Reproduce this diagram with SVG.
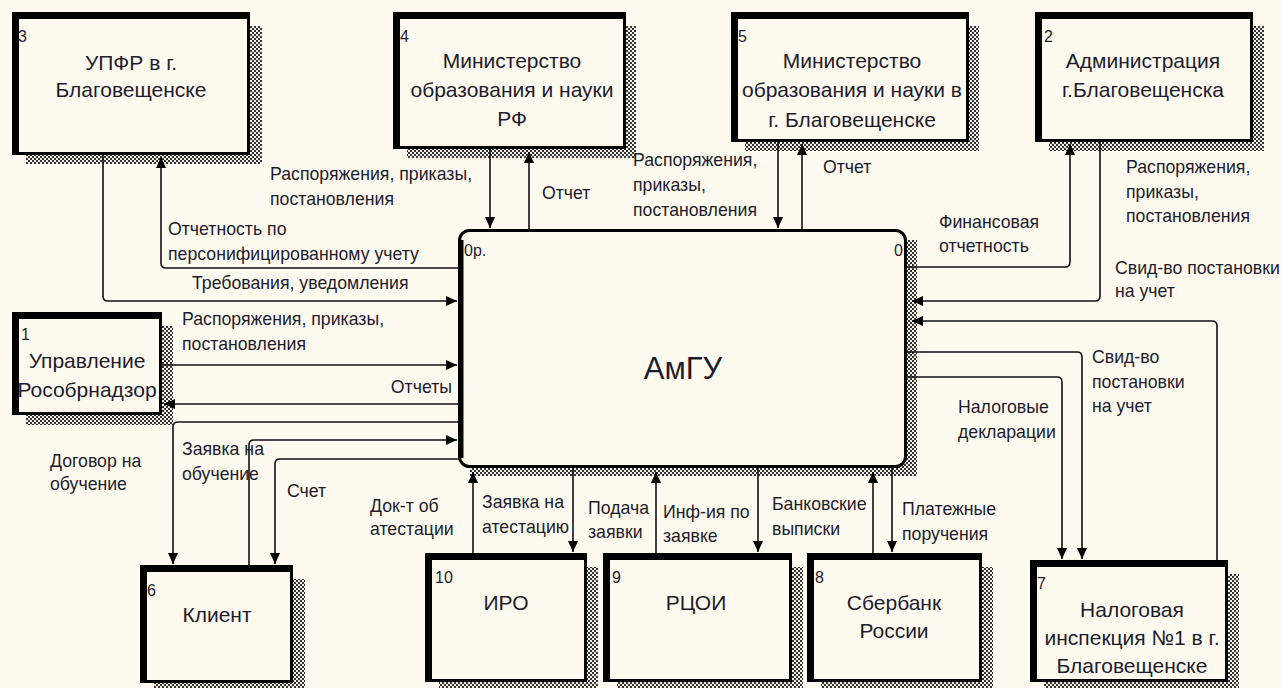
<svg xmlns="http://www.w3.org/2000/svg" width="1281" height="688" viewBox="0 0 1281 688">
<style>
.bg{fill:#fffaf0}
.sh{fill:url(#hatch)}
.bx{fill:#fffaf0;stroke:#000;stroke-width:3}
.tk{fill:#000}
.t{font-family:"Liberation Sans",Arial,sans-serif;fill:#1c1c2c}
.ttl{font-size:21px;text-anchor:middle}
.num{font-size:16px}
.lbl{font-size:17.7px}
.big{font-size:31px;text-anchor:middle}
.cn path{fill:none;stroke:#111;stroke-width:1.6}
.ar{marker-end:url(#ah)}
</style>
<defs>
<pattern id="hatch" width="4" height="4" patternUnits="userSpaceOnUse">
<rect width="4" height="4" fill="#f4f1e8"/>
<rect width="2" height="2" fill="#333"/>
<rect x="2" y="2" width="2" height="2" fill="#333"/>
</pattern>
<marker id="ah" markerUnits="userSpaceOnUse" markerWidth="12" markerHeight="12" refX="11" refY="6" orient="auto" viewBox="0 0 12 12">
<path d="M0,1 L11,6 L0,11 z" fill="#000"/>
</marker>
</defs>
<rect class="bg" width="1281" height="688"/>

<g id="main">
<rect class="sh" x="470" y="240" width="447" height="236"/>
<rect class="bx" x="459.5" y="230.5" width="446" height="236" rx="10"/>
<path d="M461,240 V458" stroke="#000" stroke-width="5"/>
<text class="t num" x="464" y="256">0р.</text>
<text class="t num" x="894" y="256">0</text>
<text class="t big" x="683" y="379">АмГУ</text>
</g>

<g id="n3">
<rect class="sh" x="26" y="26" width="236" height="138"/>
<rect class="bx" x="13.5" y="13.5" width="235" height="140"/>
<rect class="tk" x="12" y="12" width="7" height="143"/><rect class="tk" x="12" y="12" width="238" height="7"/>
<text class="t num" x="18" y="42">3</text>
<text class="t ttl" x="131" y="70">УПФР в г.</text>
<text class="t ttl" x="131" y="97">Благовещенске</text>
</g>

<g id="n4">
<rect class="sh" x="407" y="26" width="229" height="132"/>
<rect class="bx" x="394.5" y="13.5" width="230" height="134"/>
<rect class="tk" x="393" y="12" width="7" height="137"/><rect class="tk" x="393" y="12" width="233" height="7"/>
<text class="t num" x="400" y="42">4</text>
<text class="t ttl" x="512" y="68">Министерство</text>
<text class="t ttl" x="512" y="97">образования и науки</text>
<text class="t ttl" x="512" y="126">РФ</text>
</g>

<g id="n5">
<rect class="sh" x="745" y="26" width="234" height="125"/>
<rect class="bx" x="732.5" y="13.5" width="235" height="127"/>
<rect class="tk" x="731" y="12" width="7" height="130"/><rect class="tk" x="731" y="12" width="238" height="7"/>
<text class="t num" x="738" y="42">5</text>
<text class="t ttl" x="852" y="68">Министерство</text>
<text class="t ttl" x="852" y="97">образования и науки в</text>
<text class="t ttl" x="852" y="127">г. Благовещенске</text>
</g>

<g id="n2">
<rect class="sh" x="1049" y="26" width="215" height="125"/>
<rect class="bx" x="1036.5" y="13.5" width="215" height="127"/>
<rect class="tk" x="1035" y="12" width="7" height="130"/><rect class="tk" x="1035" y="12" width="218" height="7"/>
<text class="t num" x="1044" y="42">2</text>
<text class="t ttl" x="1143" y="68">Администрация</text>
<text class="t ttl" x="1143" y="97">г.Благовещенска</text>
</g>

<g id="n1">
<rect class="sh" x="26" y="326" width="147" height="99"/>
<rect class="bx" x="13.5" y="313.5" width="147" height="100"/>
<rect class="tk" x="12" y="312" width="7" height="103"/><rect class="tk" x="12" y="312" width="150" height="7"/>
<text class="t num" x="21" y="340">1</text>
<text class="t ttl" x="87" y="368">Управление</text>
<text class="t ttl" x="87" y="397">Рособрнадзор</text>
</g>

<g id="n6">
<rect class="sh" x="154" y="579" width="151" height="113"/>
<rect class="bx" x="141.5" y="566.5" width="150" height="115"/>
<rect class="tk" x="140" y="565" width="7" height="118"/><rect class="tk" x="140" y="565" width="153" height="7"/>
<text class="t num" x="147" y="596">6</text>
<text class="t ttl" x="217" y="622">Клиент</text>
</g>

<g id="n10">
<rect class="sh" x="439" y="567" width="159" height="124"/>
<rect class="bx" x="426.5" y="554.5" width="159" height="126"/>
<rect class="tk" x="425" y="553" width="7" height="129"/><rect class="tk" x="425" y="553" width="162" height="7"/>
<text class="t num" x="435" y="583">10</text>
<text class="t ttl" x="506" y="610">ИРО</text>
</g>

<g id="n9">
<rect class="sh" x="617" y="567" width="186" height="124"/>
<rect class="bx" x="604.5" y="554.5" width="186" height="126"/>
<rect class="tk" x="603" y="553" width="7" height="129"/><rect class="tk" x="603" y="553" width="189" height="7"/>
<text class="t num" x="612" y="583">9</text>
<text class="t ttl" x="696" y="610">РЦОИ</text>
</g>

<g id="n8">
<rect class="sh" x="821" y="567" width="172" height="124"/>
<rect class="bx" x="808.5" y="554.5" width="172" height="126"/>
<rect class="tk" x="807" y="553" width="7" height="129"/><rect class="tk" x="807" y="553" width="175" height="7"/>
<text class="t num" x="815" y="583">8</text>
<text class="t ttl" x="894" y="610">Сбербанк</text>
<text class="t ttl" x="894" y="638">России</text>
</g>

<g id="n7">
<rect class="sh" x="1044" y="574" width="195" height="117"/>
<rect class="bx" x="1031.5" y="561.5" width="195" height="119"/>
<rect class="tk" x="1030" y="560" width="7" height="122"/><rect class="tk" x="1030" y="560" width="198" height="7"/>
<text class="t num" x="1037" y="589">7</text>
<text class="t ttl" x="1132" y="617">Налоговая</text>
<text class="t ttl" x="1132" y="645">инспекция №1 в г.</text>
<text class="t ttl" x="1132" y="673">Благовещенске</text>
</g>

<g id="connectors" class="cn">
<path class="ar" d="M103,155 V296 Q103,301 108,301 H457"/>
<path class="ar" d="M458,268 H166 Q161,268 161,263 V157"/>
<path class="ar" d="M490,149 V228"/>
<path class="ar" d="M529,229 V152"/>
<path class="ar" d="M778,142 V228"/>
<path class="ar" d="M802,229 V144"/>
<path class="ar" d="M907,267 H1065 Q1070,267 1070,262 V144"/>
<path class="ar" d="M1100,142 V296 Q1100,301 1095,301 H912"/>
<path class="ar" d="M1217,560 V326 Q1217,321 1212,321 H912"/>
<path class="ar" d="M907,352 H1077 Q1082,352 1082,357 V559"/>
<path class="ar" d="M907,377 H1057 Q1062,377 1062,382 V559"/>
<path class="ar" d="M162,365 H457"/>
<path class="ar" d="M458,404 H164"/>
<path class="ar" d="M458,422 H178 Q173,422 173,427 V564"/>
<path class="ar" d="M249,565 V445 Q249,440 254,440 H457"/>
<path class="ar" d="M460,459 H280 Q275,459 275,464 V564"/>
<path class="ar" d="M473,553 V472"/>
<path class="ar" d="M573,468 V552"/>
<path class="ar" d="M656,553 V472"/>
<path class="ar" d="M758,468 V552"/>
<path class="ar" d="M873,553 V472"/>
<path class="ar" d="M892,468 V552"/>
</g>

<g id="labels" class="t lbl">
<text x="270" y="180">Распоряжения, приказы,</text>
<text x="270" y="205">постановления</text>
<text x="168" y="235">Отчетность по</text>
<text x="168" y="260">персонифицированному учету</text>
<text x="192" y="289">Требования, уведомления</text>
<text x="542" y="199">Отчет</text>
<text x="633" y="166">Распоряжения,</text>
<text x="633" y="191">приказы,</text>
<text x="633" y="216">постановления</text>
<text x="823" y="173">Отчет</text>
<text x="939" y="228">Финансовая</text>
<text x="939" y="252">отчетность</text>
<text x="1126" y="173">Распоряжения,</text>
<text x="1126" y="198">приказы,</text>
<text x="1126" y="222">постановления</text>
<text x="1115" y="274">Свид-во постановки</text>
<text x="1115" y="297">на учет</text>
<text x="1092" y="363">Свид-во</text>
<text x="1092" y="388">постановки</text>
<text x="1092" y="412">на учет</text>
<text x="958" y="413">Налоговые</text>
<text x="958" y="438">декларации</text>
<text x="182" y="325">Распоряжения, приказы,</text>
<text x="182" y="350">постановления</text>
<text x="452" y="393" text-anchor="end">Отчеты</text>
<text x="50" y="467">Договор на</text>
<text x="50" y="490">обучение</text>
<text x="182" y="455">Заявка на</text>
<text x="182" y="480">обучение</text>
<text x="287" y="497">Счет</text>
<text x="370" y="512">Док-т об</text>
<text x="370" y="535">атестации</text>
<text x="482" y="508">Заявка на</text>
<text x="482" y="533">атестацию</text>
<text x="588" y="514">Подача</text>
<text x="588" y="538">заявки</text>
<text x="663" y="518">Инф-ия по</text>
<text x="663" y="542">заявке</text>
<text x="772" y="510">Банковские</text>
<text x="772" y="535">выписки</text>
<text x="902" y="515">Платежные</text>
<text x="902" y="540">поручения</text>
</g>
</svg>
